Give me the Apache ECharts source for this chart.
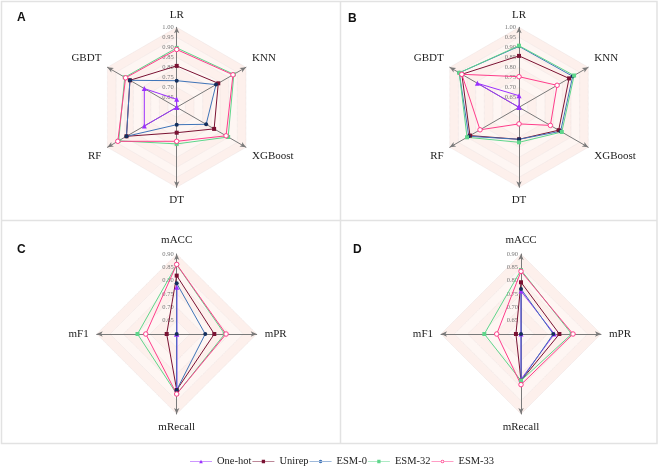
<!DOCTYPE html>
<html><head><meta charset="utf-8">
<script src="https://cdn.jsdelivr.net/npm/echarts@6/dist/echarts.min.js"></script>
<style>html,body{margin:0;padding:0;background:#fff}#c{width:659px;height:470px}</style>
</head><body><div id="c"></div>
<script>
// Indicator names (clockwise from top)
const modelsAB = ['LR', 'KNN', 'XGBoost', 'DT', 'RF', 'GBDT'];
const metricsCD = ['mACC', 'mPR', 'mRecall', 'mF1'];
const seriesNames = ['One-hot', 'Unirep', 'ESM-0', 'ESM-32', 'ESM-33'];
const ticksAB = [0.60, 0.65, 0.70, 0.75, 0.80, 0.85, 0.90, 0.95, 1.00];
const ticksCD = [0.60, 0.65, 0.70, 0.75, 0.80, 0.85, 0.90];

// Panel A values (order: LR, KNN, XGBoost, DT, RF, GBDT)
const A_onehot = [0.640, 0.600, 0.600, 0.600, 0.787, 0.787];
const A_unirep = [0.807, 0.840, 0.816, 0.727, 0.890, 0.870];
const A_esm0   = [0.733, 0.827, 0.770, 0.687, 0.890, 0.870];
const A_esm32  = [0.897, 0.930, 0.897, 0.783, 0.935, 0.900];
const A_esm33  = [0.889, 0.925, 0.885, 0.770, 0.940, 0.895];
// Panel B values
const B_onehot = [0.658, 0.600, 0.600, 0.600, 0.600, 0.840];
const B_unirep = [0.857, 0.889, 0.829, 0.760, 0.883, 0.930];
const B_esm0   = [0.905, 0.910, 0.840, 0.760, 0.890, 0.945];
const B_esm32  = [0.908, 0.918, 0.847, 0.775, 0.900, 0.945];
const B_esm33  = [0.753, 0.820, 0.781, 0.683, 0.825, 0.930];
// Panel C values (order: mACC, mPR, mRecall, mF1)
const C_onehot = [0.775, 0.600, 0.805, 0.600];
const C_unirep = [0.819, 0.741, 0.810, 0.6375];
const C_esm0   = [0.790, 0.707, 0.810, 0.600];
const C_esm32  = [0.860, 0.780, 0.825, 0.747];
const C_esm33  = [0.861, 0.785, 0.825, 0.716];
// Panel D values
const D_onehot = [0.761, 0.725, 0.770, 0.600];
const D_unirep = [0.794, 0.744, 0.775, 0.619];
const D_esm0   = [0.769, 0.721, 0.775, 0.600];
const D_esm32  = [0.840, 0.790, 0.775, 0.7375];
const D_esm33  = [0.835, 0.795, 0.790, 0.691];

const styles = [
  {line:'#9b30ff', item:'#9b30ff', border:null, symbol:'triangle', size:5},
  {line:'#7a1233', item:'#7a1233', border:null, symbol:'rect', size:4},
  {line:'#3f74b8', item:'#142f5c', border:null, symbol:'circle', size:4},
  {line:'#5fd68b', item:'#5fd68b', border:null, symbol:'rect', size:4},
  {line:'#ff3d8b', item:'#ffffff', border:'#ff3d8b', symbol:'circle', size:4.5}
];

// legend icons: a line with the marker in the middle (box 24 x 4)
const LINE_L = 'M0 1.6 L10 1.6 L10 2.4 L0 2.4 Z ';
const LINE_R = 'M14 1.6 L24 1.6 L24 2.4 L14 2.4 Z ';
const MID = 'M10 1.6 L14 1.6 L14 2.4 L10 2.4 Z ';
const legendIcons = [
  'path://' + LINE_L + LINE_R + MID + 'M10 4 L12 0 L14 4 Z',
  'path://' + LINE_L + LINE_R + MID + 'M10.2 0.2 L13.8 0.2 L13.8 3.8 L10.2 3.8 Z',
  'path://' + LINE_L + LINE_R + MID + 'M14 2 A2 2 0 1 0 10 2 A2 2 0 1 0 14 2 Z',
  'path://' + LINE_L + LINE_R + MID + 'M10.2 0.2 L13.8 0.2 L13.8 3.8 L10.2 3.8 Z',
  'path://' + LINE_L + LINE_R + 'M14 2 A2 2 0 1 0 10 2 A2 2 0 1 0 14 2 Z M13.2 2 A1.2 1.2 0 1 1 10.8 2 A1.2 1.2 0 1 1 13.2 2 Z'
];

// ECharts places radar indicators counter-clockwise; reorder clockwise lists
function ccw(arr){ return [arr[0]].concat(arr.slice(1).reverse()); }

const serif = 'Liberation Serif';
function nameAlign(i, n){
  if (n === 6) {
    if (i === 1 || i === 5) return 'bottom';
    if (i === 2 || i === 4) return 'top';
  }
  return null;
}
function makeRadar(names, ticks, center, gap){
  const mn = ticks[0], mx = ticks[ticks.length-1];
  const n = names.length;
  return {
    center: center, radius: 80, startAngle: 90, shape: 'polygon',
    splitNumber: ticks.length - 1,
    indicator: ccw(names).map((nm, i) => {
      const o = {name: nm, min: mn, max: mx};
      if (i !== 0) o.axisLabel = {show: false};
      const va = nameAlign(i, n);
      if (va) o.nameTextStyle = {verticalAlign: va};
      return o;
    }),
    axisName: {color: '#222', fontFamily: serif, fontSize: 11},
    nameGap: gap,
    axisLine: {show: true, symbol: ['none','arrow'], symbolSize: [4,6], lineStyle: {color: '#7a7a7a', width: 1}},
    axisTick: {show: false},
    axisLabel: {show: true, showMinLabel: false, fontSize: 6.5, color: '#777', fontFamily: serif, margin: 3,
      formatter: v => Number(v).toFixed(2)},
    splitLine: {lineStyle: {color: '#e3d6d6', type: 'dotted', width: 0.6}},
    splitArea: {areaStyle: {color: ['#fef6f3', '#fdf0ec']}}
  };
}

function makeSeries(idx, lists){
  return {
    type: 'radar', radarIndex: idx,
    data: lists.map((vals, k) => {
      const s = styles[k];
      const itemStyle = s.border
        ? {color: s.item, borderColor: s.border, borderWidth: 1}
        : {color: s.item, borderWidth: 0};
      return {
        name: seriesNames[k], value: ccw(vals),
        symbol: s.symbol, symbolSize: s.size,
        itemStyle: itemStyle,
        lineStyle: {color: s.line, width: 1}
      };
    })
  };
}

const chart = echarts.init(document.getElementById('c'));
const labelStyle = {fontFamily: 'Liberation Sans', fontWeight: 'bold', fontSize: 12, color: '#111'};
chart.setOption({
  animation: false,
  title: [
    {text: 'A', left: 12, top: 7, textStyle: labelStyle},
    {text: 'B', left: 343, top: 8, textStyle: labelStyle},
    {text: 'C', left: 12, top: 239, textStyle: labelStyle},
    {text: 'D', left: 348, top: 239, textStyle: labelStyle}
  ],
  graphic: [
    {type: 'rect', shape: {x: 1.5, y: 1.5, width: 655.5, height: 442}, style: {fill: 'none', stroke: '#e2e2e2', lineWidth: 1.5}, silent: true},
    {type: 'line', shape: {x1: 340.5, y1: 1.5, x2: 340.5, y2: 443.5}, style: {stroke: '#e2e2e2', lineWidth: 1.5}, silent: true},
    {type: 'line', shape: {x1: 1.5, y1: 220.5, x2: 657, y2: 220.5}, style: {stroke: '#e2e2e2', lineWidth: 1.5}, silent: true}
  ],
  legend: {
    data: seriesNames.map((n, k) => ({name: n, icon: legendIcons[k], itemStyle: {color: styles[k].line, borderWidth: 0}})),
    top: 451, left: 185,
    itemWidth: 22, itemHeight: 4, itemGap: 1,
    textStyle: {fontFamily: serif, fontSize: 10.5, color: '#222'}
  },
  radar: [
    makeRadar(modelsAB, ticksAB, [176.7, 107.3], 7),
    makeRadar(modelsAB, ticksAB, [519, 107.3], 7),
    makeRadar(metricsCD, ticksCD, [176.7, 334], 8),
    makeRadar(metricsCD, ticksCD, [521, 334], 8)
  ],
  series: [
    makeSeries(0, [A_onehot, A_unirep, A_esm0, A_esm32, A_esm33]),
    makeSeries(1, [B_onehot, B_unirep, B_esm0, B_esm32, B_esm33]),
    makeSeries(2, [C_onehot, C_unirep, C_esm0, C_esm32, C_esm33]),
    makeSeries(3, [D_onehot, D_unirep, D_esm0, D_esm32, D_esm33])
  ]
});
</script></body></html>
